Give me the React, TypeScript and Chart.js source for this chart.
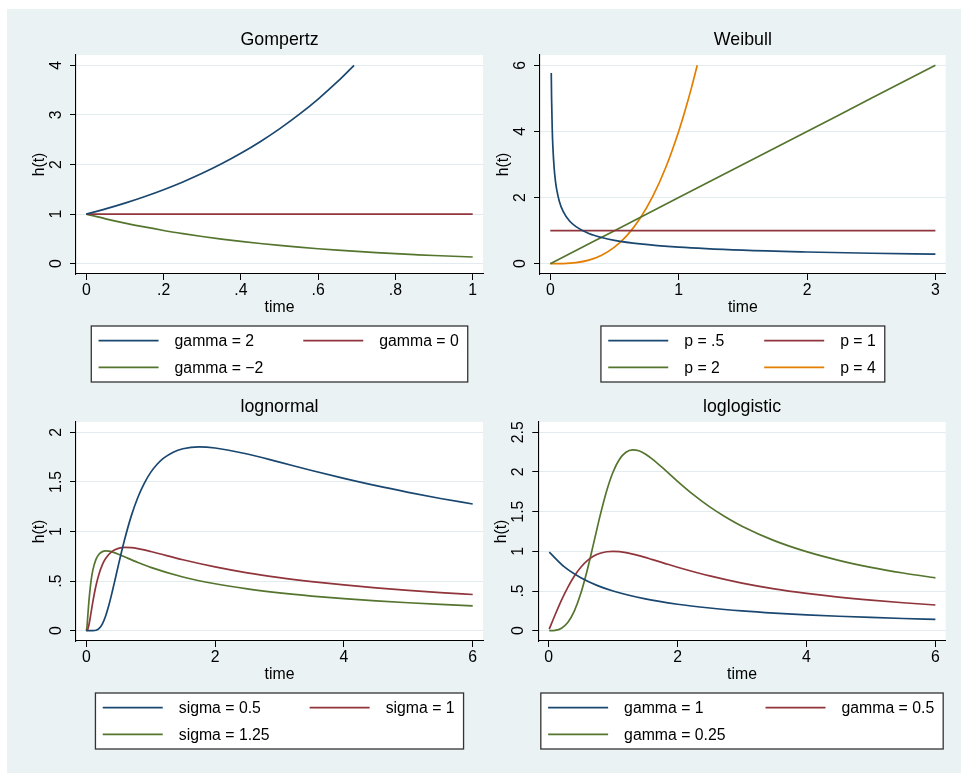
import React, { useEffect, useRef } from 'react';
import { Chart, registerables } from 'chart.js';

Chart.register(...registerables);

const FONT_FAMILY = '"Liberation Sans", Arial, Helvetica, sans-serif';
Chart.defaults.font.family = FONT_FAMILY;
Chart.defaults.color = '#000';

// ---------------- Gompertz ----------------
const gompTime = [0, 0.05, 0.1, 0.15, 0.2, 0.25, 0.3, 0.35, 0.4, 0.45, 0.5, 0.55, 0.6, 0.65, 0.7, 0.75, 0.8, 0.85, 0.9, 0.95, 1];
const gompGammaPos2Time = [0, 0.05, 0.1, 0.15, 0.2, 0.25, 0.3, 0.35, 0.4, 0.45, 0.5, 0.55, 0.6, 0.65, 0.693];
const gompGammaPos2 = [1, 1.105, 1.221, 1.35, 1.492, 1.649, 1.822, 2.014, 2.226, 2.46, 2.718, 3.004, 3.32, 3.669, 4.0];
const gompGamma0 = [1, 1, 1, 1, 1, 1, 1, 1, 1, 1, 1, 1, 1, 1, 1, 1, 1, 1, 1, 1, 1];
const gompGammaNeg2 = [1, 0.905, 0.819, 0.741, 0.67, 0.607, 0.549, 0.497, 0.449, 0.407, 0.368, 0.333, 0.301, 0.273, 0.247, 0.223, 0.202, 0.183, 0.165, 0.15, 0.135];
const gompXTicks = [0, 0.2, 0.4, 0.6, 0.8, 1];
const gompXLabels = ['0', '.2', '.4', '.6', '.8', '1'];
const gompYTicks = [0, 1, 2, 3, 4];
const gompYLabels = ['0', '1', '2', '3', '4'];

// ---------------- Weibull ----------------
const weibP05Time = [0.0075, 0.01, 0.015, 0.02, 0.03, 0.04, 0.05, 0.07, 0.1, 0.15, 0.2, 0.3, 0.4, 0.5, 0.7, 1, 1.5, 2, 2.5, 3];
const weibP05 = [5.77, 5.0, 4.08, 3.54, 2.89, 2.5, 2.24, 1.89, 1.58, 1.29, 1.12, 0.913, 0.791, 0.707, 0.598, 0.5, 0.408, 0.354, 0.316, 0.289];
const weibTime = [0, 0.5, 1, 1.5, 2, 2.5, 3];
const weibP1 = [1, 1, 1, 1, 1, 1, 1];
const weibP2 = [0, 1, 2, 3, 4, 5, 6];
const weibP4Time = [0, 0.1, 0.2, 0.3, 0.4, 0.5, 0.6, 0.7, 0.8, 0.9, 1.0, 1.05, 1.1, 1.145];
const weibP4 = [0, 0.004, 0.032, 0.108, 0.256, 0.5, 0.864, 1.372, 2.048, 2.916, 4.0, 4.631, 5.324, 6.0];
const weibXTicks = [0, 1, 2, 3];
const weibXLabels = ['0', '1', '2', '3'];
const weibYTicks = [0, 2, 4, 6];
const weibYLabels = ['0', '2', '4', '6'];

// ---------------- lognormal ----------------
const lnSig05Time = [0, 0.1, 0.15, 0.2, 0.25, 0.3, 0.35, 0.4, 0.45, 0.5, 0.55, 0.6, 0.7, 0.8, 0.9, 1.0, 1.1, 1.2, 1.35, 1.5, 1.75, 2, 2.5, 3, 3.5, 4, 4.5, 5, 5.5, 6];
const lnSig05 = [0, 0.0002, 0.004, 0.0225, 0.0685, 0.148, 0.256, 0.385, 0.524, 0.666, 0.803, 0.932, 1.16, 1.343, 1.486, 1.596, 1.678, 1.739, 1.8, 1.834, 1.853, 1.842, 1.781, 1.699, 1.615, 1.536, 1.462, 1.395, 1.333, 1.277];
const lnSig1Time = [0, 0.02, 0.03, 0.05, 0.075, 0.1, 0.15, 0.2, 0.25, 0.3, 0.4, 0.5, 0.6, 0.7, 0.8, 1, 1.5, 2, 2.5, 3, 3.5, 4, 4.5, 5, 5.5, 6];
const lnSig1 = [0, 0.0095, 0.0284, 0.09, 0.187, 0.285, 0.453, 0.577, 0.666, 0.727, 0.799, 0.83, 0.839, 0.837, 0.827, 0.798, 0.715, 0.643, 0.583, 0.535, 0.495, 0.461, 0.432, 0.406, 0.384, 0.365];
const lnSig125Time = [0, 0.01, 0.02, 0.035, 0.05, 0.075, 0.1, 0.15, 0.2, 0.25, 0.3, 0.35, 0.4, 0.5, 0.6, 0.8, 1, 1.5, 2, 2.5, 3, 3.5, 4, 4.5, 5, 5.5, 6];
const lnSig125 = [0, 0.036, 0.119, 0.251, 0.364, 0.507, 0.605, 0.719, 0.773, 0.797, 0.804, 0.802, 0.794, 0.771, 0.743, 0.688, 0.638, 0.541, 0.473, 0.421, 0.381, 0.349, 0.323, 0.301, 0.282, 0.265, 0.251];
const lnXTicks = [0, 2, 4, 6];
const lnXLabels = ['0', '2', '4', '6'];
const lnYTicks = [0, 0.5, 1, 1.5, 2];
const lnYLabels = ['0', '.5', '1', '1.5', '2'];

// ---------------- loglogistic ----------------
const llG1Time = [0.01, 0.25, 0.5, 0.75, 1, 1.5, 2, 2.5, 3, 3.5, 4, 4.5, 5, 5.5, 6];
const llG1 = [0.99, 0.8, 0.667, 0.571, 0.5, 0.4, 0.333, 0.286, 0.25, 0.222, 0.2, 0.182, 0.167, 0.154, 0.143];
const llG05Time = [0.01, 0.1, 0.2, 0.3, 0.4, 0.5, 0.6, 0.7, 0.8, 0.9, 1, 1.1, 1.2, 1.4, 1.6, 1.8, 2, 2.5, 3, 3.5, 4, 4.5, 5, 5.5, 6];
const llG05 = [0.02, 0.198, 0.385, 0.55, 0.69, 0.8, 0.882, 0.94, 0.976, 0.9945, 1.0, 0.9955, 0.984, 0.946, 0.899, 0.849, 0.8, 0.69, 0.6, 0.528, 0.471, 0.424, 0.385, 0.352, 0.324];
const llG025Time = [0.01, 0.1, 0.2, 0.3, 0.4, 0.5, 0.6, 0.7, 0.8, 0.9, 1, 1.1, 1.2, 1.3, 1.4, 1.5, 1.6, 1.8, 2, 2.25, 2.5, 2.75, 3, 3.5, 4, 4.5, 5, 5.5, 6];
const llG025 = [0, 0.004, 0.032, 0.107, 0.25, 0.471, 0.765, 1.106, 1.453, 1.761, 2.0, 2.161, 2.249, 2.279, 2.267, 2.227, 2.169, 2.029, 1.882, 1.711, 1.56, 1.43, 1.317, 1.135, 0.996, 0.887, 0.799, 0.727, 0.666];
const llXTicks = [0, 2, 4, 6];
const llXLabels = ['0', '2', '4', '6'];
const llYTicks = [0, 0.5, 1, 1.5, 2, 2.5];
const llYLabels = ['0', '.5', '1', '1.5', '2', '2.5'];

// ---------------- styles ----------------
const NAVY = '#1A476F';
const MAROON = '#90353B';
const GREEN = '#55752F';
const ORANGE = '#E37E00';
const BG = '#EAF2F3';
const GRID = '#E2ECEE';

const CANVAS_W = 477;
const CANVAS_H = 390;
const PLOT_TOP = 46;
const PLOT_BOTTOM = 265;
const MARGIN = 10.3;
const X_AXIS_H = 43.3;
const FS = 15.8;
const TITLE_FS = 17.8;
const LINE_W = 1.7;

type Series = { label: string; color: string; x: number[]; y: number[] };
interface PanelSpec {
  title: string;
  left: number;
  top: number;
  plotLeft: number;
  plotRight: number;
  series: Series[];
  xTicks: number[];
  xLabels: string[];
  yTicks: number[];
  yLabels: string[];
}

const panels: PanelSpec[] = [
  {
    title: 'Gompertz', left: 7, top: 9, plotLeft: 69, plotRight: 476,
    series: [
      { label: 'gamma = 2', color: NAVY, x: gompGammaPos2Time, y: gompGammaPos2 },
      { label: 'gamma = 0', color: MAROON, x: gompTime, y: gompGamma0 },
      { label: 'gamma = \u22122', color: GREEN, x: gompTime, y: gompGammaNeg2 },
    ],
    xTicks: gompXTicks, xLabels: gompXLabels, yTicks: gompYTicks, yLabels: gompYLabels,
  },
  {
    title: 'Weibull', left: 484, top: 9, plotLeft: 56, plotRight: 461.7,
    series: [
      { label: 'p = .5', color: NAVY, x: weibP05Time, y: weibP05 },
      { label: 'p = 1', color: MAROON, x: weibTime, y: weibP1 },
      { label: 'p = 2', color: GREEN, x: weibTime, y: weibP2 },
      { label: 'p = 4', color: ORANGE, x: weibP4Time, y: weibP4 },
    ],
    xTicks: weibXTicks, xLabels: weibXLabels, yTicks: weibYTicks, yLabels: weibYLabels,
  },
  {
    title: 'lognormal', left: 7, top: 376, plotLeft: 69, plotRight: 476,
    series: [
      { label: 'sigma = 0.5', color: NAVY, x: lnSig05Time, y: lnSig05 },
      { label: 'sigma = 1', color: MAROON, x: lnSig1Time, y: lnSig1 },
      { label: 'sigma = 1.25', color: GREEN, x: lnSig125Time, y: lnSig125 },
    ],
    xTicks: lnXTicks, xLabels: lnXLabels, yTicks: lnYTicks, yLabels: lnYLabels,
  },
  {
    title: 'loglogistic', left: 484, top: 376, plotLeft: 54.3, plotRight: 461.7,
    series: [
      { label: 'gamma = 1', color: NAVY, x: llG1Time, y: llG1 },
      { label: 'gamma = 0.5', color: MAROON, x: llG05Time, y: llG05 },
      { label: 'gamma = 0.25', color: GREEN, x: llG025Time, y: llG025 },
    ],
    xTicks: llXTicks, xLabels: llXLabels, yTicks: llYTicks, yLabels: llYLabels,
  },
];

function padRange(lo: number, hi: number, px: number): [number, number] {
  const d = ((hi - lo) * MARGIN) / (px - 2 * MARGIN);
  return [lo - d, hi + d];
}

const stataPlugin = {
  id: 'stata',
  beforeDraw(chart: any) {
    const { ctx, chartArea: a } = chart;
    ctx.save();
    ctx.fillStyle = '#ffffff';
    ctx.fillRect(a.left, a.top, a.right - a.left, a.bottom - a.top);
    ctx.restore();
  },
  afterDraw(chart: any, _args: any, opts: any) {
    const { ctx, chartArea: a } = chart;
    const cx = (a.left + a.right) / 2;
    ctx.save();
    // title
    ctx.fillStyle = '#000';
    ctx.font = `${TITLE_FS}px ${FONT_FAMILY}`;
    ctx.textAlign = 'center';
    ctx.textBaseline = 'middle';
    ctx.fillText(opts.title, cx, a.top - 14.5);

    // rotated y tick labels
    const yScale = chart.scales.y;
    ctx.font = `${FS}px ${FONT_FAMILY}`;
    (opts.yTicks as number[]).forEach((v, i) => {
      const py = yScale.getPixelForValue(v);
      ctx.save();
      ctx.translate(a.left - 19.5, py);
      ctx.rotate(-Math.PI / 2);
      ctx.textAlign = 'center';
      ctx.textBaseline = 'middle';
      ctx.fillText(opts.yLabels[i], 0, 0);
      ctx.restore();
    });

    // legend
    const items = chart.data.datasets.map((d: any) => ({ label: d.label, color: d.borderColor }));
    const keyLen = 60;
    const keyGap = 16;
    const colGap = 40;
    const padL = 7.3;
    const padR = 9;
    const colW = [0, 0];
    items.forEach((it: any, i: number) => {
      const c = i % 2;
      colW[c] = Math.max(colW[c], keyLen + keyGap + ctx.measureText(it.label).width);
    });
    const boxW = padL + colW[0] + colGap + colW[1] + padR;
    const boxX = cx - boxW / 2;
    const boxY = a.bottom + 52;
    const boxH = 56;
    ctx.fillStyle = '#ffffff';
    ctx.fillRect(boxX, boxY, boxW, boxH);
    ctx.strokeStyle = '#333';
    ctx.lineWidth = 1.3;
    ctx.strokeRect(boxX, boxY, boxW, boxH);
    items.forEach((it: any, i: number) => {
      const c = i % 2;
      const r = Math.floor(i / 2);
      const x0 = boxX + padL + (c === 0 ? 0 : colW[0] + colGap);
      const y0 = boxY + 15.7 + r * 26.6;
      ctx.strokeStyle = it.color;
      ctx.lineWidth = LINE_W;
      ctx.beginPath();
      ctx.moveTo(x0, y0 - 1);
      ctx.lineTo(x0 + keyLen, y0 - 1);
      ctx.stroke();
      ctx.fillStyle = '#000';
      ctx.textAlign = 'left';
      ctx.textBaseline = 'middle';
      ctx.fillText(it.label, x0 + keyLen + keyGap, y0);
    });
    ctx.restore();
  },
};

function makeConfig(p: PanelSpec): any {
  const plotW = p.plotRight - p.plotLeft;
  const plotH = PLOT_BOTTOM - PLOT_TOP;
  const [xMin, xMax] = padRange(p.xTicks[0], p.xTicks[p.xTicks.length - 1], plotW);
  const [yMin, yMax] = padRange(p.yTicks[0], p.yTicks[p.yTicks.length - 1], plotH);
  return {
    type: 'line',
    data: {
      datasets: p.series.map((s) => ({
        label: s.label,
        data: s.x.map((x, i) => ({ x, y: s.y[i] })),
        borderColor: s.color,
        backgroundColor: s.color,
        borderWidth: LINE_W,
        pointRadius: 0,
        pointHoverRadius: 0,
        cubicInterpolationMode: 'monotone',
        fill: false,
      })),
    },
    options: {
      animation: false,
      responsive: false,
      events: [],
      layout: {
        padding: {
          left: 0,
          top: PLOT_TOP,
          right: CANVAS_W - p.plotRight,
          bottom: CANVAS_H - PLOT_BOTTOM - X_AXIS_H,
        },
      },
      scales: {
        x: {
          type: 'linear',
          min: xMin,
          max: xMax,
          afterBuildTicks: (s: any) => {
            s.ticks = p.xTicks.map((v) => ({ value: v }));
          },
          afterFit: (s: any) => {
            s.height = X_AXIS_H;
          },
          ticks: {
            callback: (_v: any, i: number) => p.xLabels[i],
            font: { size: FS },
            color: '#000',
            padding: 1,
            maxRotation: 0,
            autoSkip: false,
          },
          grid: { drawOnChartArea: false, drawTicks: true, tickLength: 6, tickColor: '#000', tickWidth: 1 },
          border: { display: true, color: '#000', width: 1.1 },
          title: { display: true, text: 'time', font: { size: FS }, color: '#000', padding: { top: 0, bottom: 0 } },
        },
        y: {
          type: 'linear',
          min: yMin,
          max: yMax,
          afterBuildTicks: (s: any) => {
            s.ticks = p.yTicks.map((v) => ({ value: v }));
          },
          afterFit: (s: any) => {
            s.width = p.plotLeft;
          },
          ticks: { display: false },
          grid: { color: GRID, lineWidth: 1, drawTicks: true, tickLength: 6, tickColor: '#000', tickWidth: 1 },
          border: { display: true, color: '#000', width: 1.1 },
          title: {
            display: true,
            text: 'h(t)',
            font: { size: FS },
            color: '#000',
            padding: { top: p.plotLeft - 36.3 - FS * 0.6, bottom: 0 },
          },
        },
      },
      plugins: {
        legend: { display: false },
        tooltip: { enabled: false },
        title: { display: false },
        stata: { title: p.title, yTicks: p.yTicks, yLabels: p.yLabels },
      },
    },
    plugins: [stataPlugin],
  };
}

function Panel({ spec }: { spec: PanelSpec }) {
  const ref = useRef<HTMLCanvasElement>(null);
  useEffect(() => {
    if (!ref.current) return;
    const chart = new Chart(ref.current, makeConfig(spec));
    return () => chart.destroy();
  }, [spec]);
  return (
    <canvas
      ref={ref}
      width={CANVAS_W}
      height={CANVAS_H}
      style={{ position: 'absolute', left: spec.left, top: spec.top, width: CANVAS_W, height: CANVAS_H }}
    />
  );
}

export default function App() {
  return (
    <div style={{ position: 'absolute', left: 0, top: 0, width: 961, height: 773, overflow: 'hidden', background: '#fff' }}>
      <div style={{ position: 'absolute', left: 7, top: 9, width: 954, height: 764, background: BG }} />
      {panels.map((p) => (
        <Panel key={p.title} spec={p} />
      ))}
    </div>
  );
}
